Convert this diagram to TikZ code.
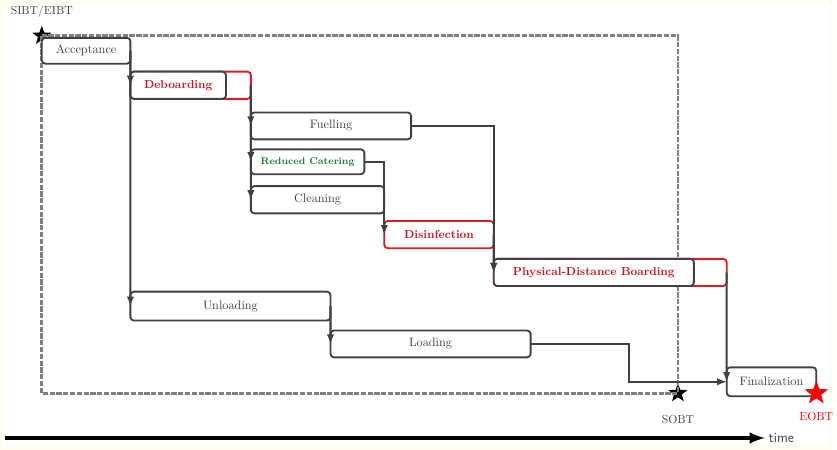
\documentclass[tikz,border=0pt]{standalone}
\usepackage{xcolor}
\usepackage{tikz}
\usetikzlibrary{shapes.geometric, arrows, positioning, calc}
\definecolor{cream}{RGB}{255, 253, 240}
\definecolor{linegrey}{RGB}{64, 64, 64}
\definecolor{dashgrey}{RGB}{125, 128, 128}
\definecolor{deepred}{RGB}{200, 20, 30}
\definecolor{boxred}{RGB}{215, 30, 35}
\definecolor{catgreen}{RGB}{25, 120, 55}
\begin{document}
\begin{tikzpicture}[x=0.03cm, y=-0.03cm, >=latex,
  task/.style={rectangle, draw=linegrey, fill=white, line width=1.6pt, rounded corners=3pt, anchor=north west, outer sep=0pt, minimum height=0.82cm, inner sep=1pt, text=linegrey, font=\fontsize{10.5}{12}\selectfont},
  extra/.style={task, draw=boxred},
  newtask/.style={task, draw=boxred, text=deepred, font=\bfseries},
  flow/.style={draw=linegrey, line width=1.8pt, ->},
  window/.style={draw=dashgrey, line width=2.4pt, dash pattern=on 4.5pt off 1.3pt},
  milestone/.style={star, star points=5, star point ratio=2.4, fill=black, inner sep=0pt, minimum size=0.6cm},
  timeline/.style={draw=black, line width=3.4pt, -latex}]

  \fill[cream] (0,0) rectangle (837,452);
  \fill[white] (4,4) rectangle (833,447);

  \node [milestone] (sibt) at (42,36) {};
  \node [milestone] (sobt) at (681,395) {};
  \draw [window] (sibt.center) rectangle (sobt.center);

  \node [task, minimum width=2.67cm, minimum height=0.78cm] (accept) at (42,38) {Acceptance};
  \node [extra, minimum width=3.63cm] (deboardx) at (131,72) {};
  \node [task, minimum width=2.88cm, text=deepred, font=\bfseries] (deboard) at (131,72) {Deboarding};
  \node [task, minimum width=4.83cm, minimum height=0.81cm] (fuel) at (252,113) {Fuelling};
  \node [task, minimum width=3.42cm, minimum height=0.75cm, text=catgreen, font=\bfseries\fontsize{8.3}{10}\selectfont] (cater) at (252,150) {Reduced Catering};
  \node [task, minimum width=4.02cm] (clean) at (252,187) {Cleaning};
  \node [newtask, minimum width=3.3cm] (disinf) at (386,222) {Disinfection};
  \node [extra, minimum width=7.02cm] (boardx) at (496,260) {};
  \node [task, minimum width=6.03cm, text=deepred, font=\bfseries] (board) at (496,260) {Physical-Distance Boarding};
  \node [task, minimum width=6.03cm, minimum height=0.87cm] (unload) at (131,293) {Unloading};
  \node [task, minimum width=6.03cm, minimum height=0.81cm] (load) at (332,332) {Loading};
  \node [task, minimum width=2.7cm, minimum height=0.87cm] (final) at (730,369) {Finalization};

  \draw [flow] (accept.east) -- (deboard.west);
  \draw [flow] (accept.east) -- (unload.west);
  \draw [flow] (deboardx.east) -- (fuel.west);
  \draw [flow] (deboardx.east) -- (cater.west);
  \draw [flow] (deboardx.east) -- (clean.west);
  \draw [flow] (fuel.east) -| (board.west);
  \draw [flow] (cater.east) -| (disinf.west);
  \draw [flow] (disinf.east) -- (board.west);
  \draw [flow] (unload.east) -- (load.west);
  \draw [flow] (load.east) -| ($(load.east)!0.5!(final.west)$) |- (final.west);
  \draw [flow] (boardx.east) -- (final.west);

  \node [milestone, fill=red, minimum size=0.75cm] (eobt) at (820,395) {};
  \node [above=0.1cm of sibt, text=linegrey] (sibtlbl) {SIBT/EIBT};
  \node [below=0.4cm of sobt, text=linegrey] (sobtlbl) {SOBT};
  \node [below=0.3cm of eobt, text=red] (eobtlbl) {EOBT};

  \coordinate (t0) at (5,440);
  \node [font=\sffamily\large, text=linegrey] (timelbl) at (785,440) {time};
  \draw [timeline] (t0) -- (timelbl.west);

\end{tikzpicture}
\end{document}
